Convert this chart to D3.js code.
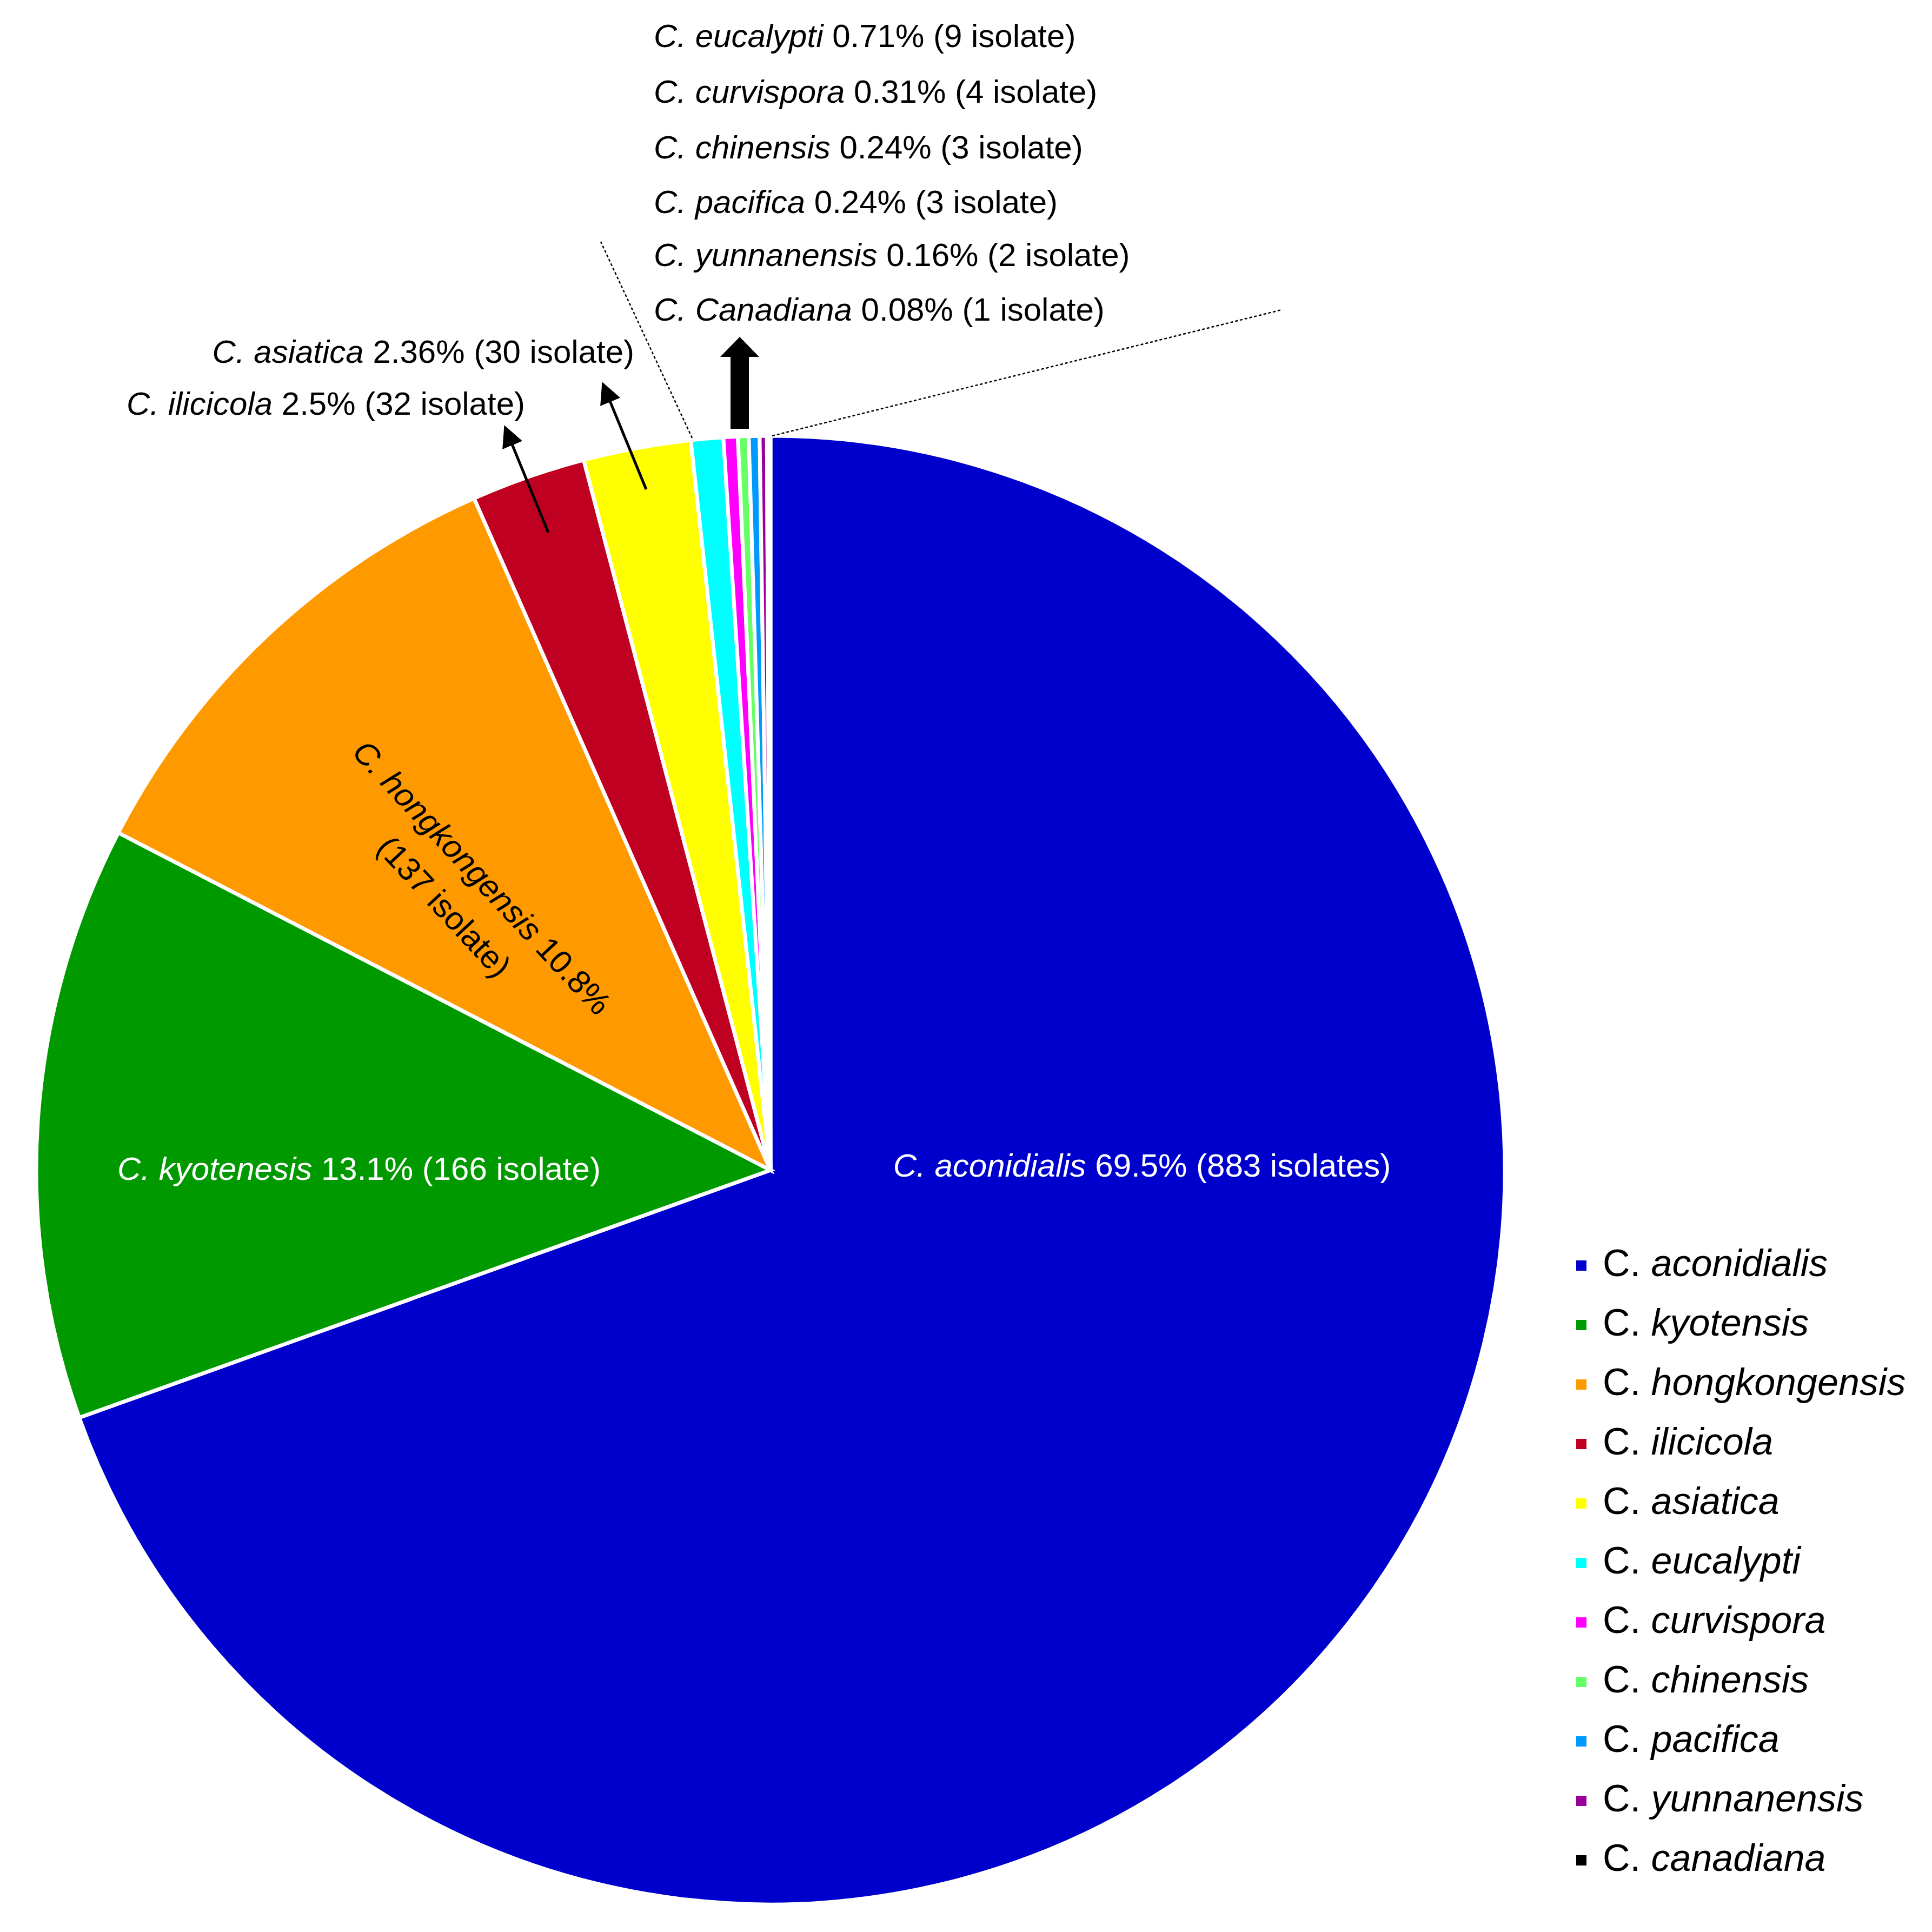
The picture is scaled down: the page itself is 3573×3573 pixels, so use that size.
<!DOCTYPE html>
<html><head><meta charset="utf-8">
<script src="https://cdn.jsdelivr.net/npm/d3@7"></script>
<style>body{margin:0;background:#fff}</style></head>
<body><svg id="c" width="3573" height="3573"></svg>
<script>
const species = ["C. aconidialis","C. kyotensis","C. hongkongensis","C. ilicicola","C. asiatica","C. eucalypti","C. curvispora","C. chinensis","C. pacifica","C. yunnanensis","C. canadiana"];
const counts = [883,166,137,32,30,9,4,3,3,2,1];
const colors = ["#0000CC","#009900","#FF9900","#C00020","#FFFF00","#00FFFF","#FF00FF","#66FF66","#0099FF","#990099","#000000"];
const topLabels = [["C. eucalypti"," 0.71% (9 isolate)"],["C. curvispora"," 0.31% (4 isolate)"],["C. chinensis"," 0.24% (3 isolate)"],["C. pacifica"," 0.24% (3 isolate)"],["C. yunnanensis"," 0.16% (2 isolate)"],["C. Canadiana"," 0.08% (1 isolate)"]];

const svg = d3.select("#c");
const F = "Liberation Sans, Arial, sans-serif";
const cx=1425, cy=2164, R=1358;
const g = svg.append("g").attr("transform",`translate(${cx},${cy})`);
const pie = d3.pie().sort(null).value(d=>d)(counts);
const arc = d3.arc().innerRadius(0).outerRadius(R);
g.selectAll("path").data(pie).join("path").attr("d",arc)
 .attr("fill",(d,i)=>colors[i]).attr("stroke","#fff").attr("stroke-width",7);

function lab(sel,x,y,it,rest,opt={}){
  const t=sel.append("text").attr("x",x).attr("y",y).attr("font-family",F).attr("font-size",opt.fs||60)
   .attr("fill",opt.fill||"#000").attr("text-anchor",opt.anchor||"start").attr("dominant-baseline","middle");
  if(opt.rot!==undefined) t.attr("transform",`rotate(${opt.rot},${x},${y})`);
  t.append("tspan").attr("font-style","italic").text(it);
  t.append("tspan").text(rest);
  return t;
}
lab(svg,2112,2160,"C. aconidialis"," 69.5% (883 isolates)",{fill:"#fff",anchor:"middle"});
lab(svg,664,2166,"C. kyotenesis"," 13.1% (166 isolate)",{fill:"#fff",anchor:"middle"});
lab(svg,888,1626,"C. hongkongensis"," 10.8%",{anchor:"middle",rot:47});
svg.append("text").attr("x",818).attr("y",1680).attr("font-family",F).attr("font-size",60)
  .attr("text-anchor","middle").attr("dominant-baseline","middle").attr("transform","rotate(47,818,1680)").text("(137 isolate)");
lab(svg,1173,655,"C. asiatica"," 2.36% (30 isolate)",{anchor:"end"});
lab(svg,971,751,"C. ilicicola"," 2.5% (32 isolate)",{anchor:"end"});
const ys=[71,174,277,378,476,577];
topLabels.forEach((d,i)=>lab(svg,1209,ys[i],d[0],d[1]));

svg.append("defs").append("marker").attr("id","ah").attr("viewBox","0 0 10 10").attr("refX",9).attr("refY",5)
 .attr("markerWidth",8).attr("markerHeight",8).attr("markerUnits","userSpaceOnUse").attr("orient","auto")
 .append("path").attr("d","M0,0L10,5L0,10Z").attr("fill","#000");
d3.select("marker").attr("markerWidth",40).attr("markerHeight",40);
[[1014,985,934,790],[1195,905,1115,710]].forEach(a=>svg.append("line").attr("x1",a[0]).attr("y1",a[1]).attr("x2",a[2]).attr("y2",a[3])
  .attr("stroke","#000").attr("stroke-width",5).attr("marker-end","url(#ah)"));
svg.append("path").attr("d","M1351,793L1351,660L1332,660L1368,623L1404,660L1385,660L1385,793Z").attr("fill","#000");
[[1280,810,1111,447],[1428,806,2370,573]].forEach(a=>svg.append("line").attr("x1",a[0]).attr("y1",a[1]).attr("x2",a[2]).attr("y2",a[3])
  .attr("stroke","#000").attr("stroke-width",2.5).attr("stroke-dasharray","5,4"));

const lg=svg.append("g");
species.forEach((s,i)=>{
  const y=2340+i*110;
  lg.append("rect").attr("x",2915).attr("y",y-9).attr("width",19).attr("height",19).attr("fill",colors[i]);
  const t=lg.append("text").attr("x",2964).attr("y",y+2).attr("font-family",F).attr("font-size",70).attr("dominant-baseline","middle");
  const p=s.split(" ");
  t.append("tspan").text(p[0]+" ");
  t.append("tspan").attr("font-style","italic").text(p[1]);
});
</script></body></html>
